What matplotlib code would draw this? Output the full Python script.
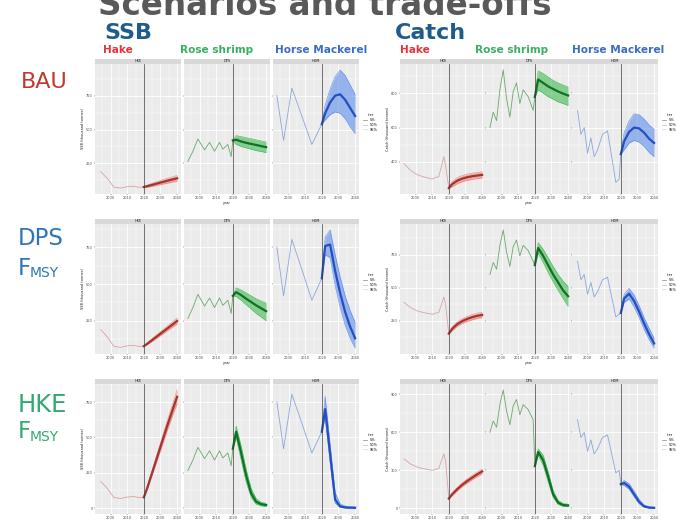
import matplotlib
matplotlib.use("Agg")
import matplotlib.pyplot as plt
from matplotlib.lines import Line2D
from matplotlib.ticker import MultipleLocator, MaxNLocator, AutoMinorLocator

# ---- data (SSB and catch, thousand tonnes; projections 5%, median, 95%) ----
SPECIES = ["Hake", "Rose shrimp", "Horse Mackerel"]
STRIP_LABELS = ["HKE", "DPS", "HOM"]
SCENARIOS = ["BAU", "DPS", "HKE"]
PROJ_YEARS = [2020, 2022, 2025, 2028, 2031, 2034, 2037, 2040]

SSB_HKE_YEARS = [1994, 1998, 2002, 2006, 2010, 2014, 2017, 2019]
SSB_HKE = [190, 140, 75, 68, 78, 82, 74, 76]
SSB_MUT_YEARS = [1993, 1996, 1999, 2003, 2006, 2009, 2012, 2014, 2017, 2019]
SSB_MUT = [265, 340, 430, 350, 405, 340, 405, 355, 390, 300]
SSB_HOM_YEARS = [1993, 1997, 2002, 2008, 2014, 2019]
SSB_HOM = [750, 420, 805, 600, 390, 515]

CATCH_HKE_YEARS = [1993, 1997, 2001, 2005, 2010, 2014, 2017, 2018]
CATCH_HKE = [390, 350, 325, 312, 300, 315, 430, 380]
CATCH_MUT_YEARS = [1993, 1995, 1997, 1999, 2001, 2003, 2005, 2007, 2009, 2011, 2013, 2016, 2019]
CATCH_MUT = [600, 690, 640, 820, 936, 770, 660, 810, 860, 740, 820, 780, 700]
CATCH_HOM_YEARS = [1994, 1996, 1998, 2000, 2002, 2004, 2006, 2009, 2012, 2015, 2017, 2019]
CATCH_HOM = [700, 560, 600, 450, 540, 430, 470, 560, 580, 400, 280, 300]

# SSB projections
SSB_BAU_HKE_LO = [76, 74, 80, 88, 96, 104, 112, 118]
SSB_BAU_HKE_MED = [76, 82, 92, 102, 112, 122, 131, 140]
SSB_BAU_HKE_HI = [76, 90, 104, 116, 128, 140, 150, 162]
SSB_BAU_MUT_LO = [420, 390, 375, 365, 355, 345, 338, 330]
SSB_BAU_MUT_MED = [420, 425, 412, 402, 394, 386, 378, 370]
SSB_BAU_MUT_HI = [420, 455, 448, 440, 432, 424, 416, 408]
SSB_BAU_HOM_LO = [540, 570, 610, 630, 620, 580, 520, 470]
SSB_BAU_HOM_MED = [540, 620, 700, 750, 760, 720, 660, 600]
SSB_BAU_HOM_HI = [540, 680, 800, 890, 940, 900, 830, 760]

SSB_DPS_HKE_LO = [76, 86, 108, 132, 156, 180, 204, 228]
SSB_DPS_HKE_MED = [76, 92, 118, 144, 170, 196, 222, 248]
SSB_DPS_HKE_HI = [76, 98, 128, 156, 184, 212, 240, 268]
SSB_DPS_MUT_LO = [420, 415, 390, 360, 330, 300, 275, 250]
SSB_DPS_MUT_MED = [420, 445, 425, 400, 378, 355, 335, 315]
SSB_DPS_MUT_HI = [420, 475, 460, 440, 420, 400, 385, 370]
SSB_DPS_HOM_LO = [540, 700, 680, 490, 340, 220, 130, 63]
SSB_DPS_HOM_MED = [540, 760, 770, 590, 440, 310, 210, 130]
SSB_DPS_HOM_HI = [540, 820, 870, 700, 550, 420, 320, 240]

SSB_HKEF_HKE_LO = [76, 130, 232, 336, 440, 545, 645, 738]
SSB_HKEF_HKE_MED = [76, 140, 250, 360, 470, 580, 685, 787]
SSB_HKEF_HKE_HI = [76, 150, 268, 384, 500, 615, 725, 836]
SSB_HKEF_MUT_LO = [420, 500, 340, 185, 75, 28, 16, 12]
SSB_HKEF_MUT_MED = [420, 540, 390, 230, 105, 45, 28, 22]
SSB_HKEF_MUT_HI = [420, 580, 440, 275, 140, 68, 42, 34]
SSB_HKEF_HOM_LO = [540, 640, 320, 35, 5, 1, 0, 0]
SSB_HKEF_HOM_MED = [540, 700, 380, 60, 12, 5, 3, 2]
SSB_HKEF_HOM_HI = [540, 790, 450, 110, 30, 15, 10, 8]

# Catch projections
CATCH_BAU_HKE_LO = [247, 255, 272, 284, 292, 298, 302, 306]
CATCH_BAU_HKE_MED = [247, 270, 290, 302, 310, 316, 320, 324]
CATCH_BAU_HKE_HI = [247, 285, 308, 320, 328, 334, 338, 342]
CATCH_BAU_MUT_LO = [778, 820, 800, 780, 765, 750, 740, 729]
CATCH_BAU_MUT_MED = [778, 880, 860, 840, 825, 810, 798, 787]
CATCH_BAU_MUT_HI = [778, 930, 915, 895, 875, 860, 848, 836]
CATCH_BAU_HOM_LO = [445, 470, 510, 525, 515, 490, 455, 430]
CATCH_BAU_HOM_MED = [445, 520, 575, 600, 595, 570, 535, 510]
CATCH_BAU_HOM_HI = [445, 570, 640, 680, 675, 650, 615, 590]

CATCH_DPS_HKE_LO = [154, 175, 208, 230, 246, 258, 268, 275]
CATCH_DPS_HKE_MED = [154, 190, 225, 248, 265, 278, 288, 295]
CATCH_DPS_HKE_HI = [154, 205, 242, 266, 284, 298, 308, 315]
CATCH_DPS_MUT_LO = [670, 760, 690, 615, 545, 480, 420, 360]
CATCH_DPS_MUT_MED = [670, 800, 740, 670, 600, 540, 480, 436]
CATCH_DPS_MUT_HI = [670, 840, 790, 725, 660, 600, 550, 510]
CATCH_DPS_HOM_LO = [310, 390, 415, 355, 275, 185, 110, 45]
CATCH_DPS_HOM_MED = [310, 420, 455, 400, 320, 230, 150, 80]
CATCH_DPS_HOM_HI = [310, 450, 495, 445, 365, 275, 195, 120]

CATCH_HKEF_HKE_LO = [76, 98, 136, 170, 198, 225, 250, 272]
CATCH_HKEF_HKE_MED = [76, 110, 150, 185, 215, 242, 268, 291]
CATCH_HKEF_HKE_HI = [76, 122, 164, 200, 232, 260, 286, 310]
CATCH_HKEF_MUT_LO = [333, 420, 340, 210, 85, 30, 15, 12]
CATCH_HKEF_MUT_MED = [333, 445, 380, 250, 110, 45, 25, 22]
CATCH_HKEF_MUT_HI = [333, 470, 420, 290, 140, 62, 38, 32]
CATCH_HKEF_HOM_LO = [190, 180, 150, 90, 35, 8, 2, 1]
CATCH_HKEF_HOM_MED = [190, 200, 170, 110, 50, 15, 5, 3]
CATCH_HKEF_HOM_HI = [190, 220, 195, 135, 70, 25, 12, 8]

# ---- styling ----
W, H = 676, 520
HIST_COLORS = ["#d8a4a4", "#6aa86a", "#8aa6dc"]
BAND_COLORS = ["#ee7b70", "#2fb543", "#4f83ec"]
MED_COLORS = ["#a33530", "#0f7026", "#234fbf"]
LABEL_COLORS = ["#e8323c", "#3aae64", "#3a6cc4"]
ROW_COLORS = ["#bf3a30", "#2e75b6", "#33a870"]
HEAD_COLOR = "#1f5c8e"

SSB_LEFTS = [95, 184, 273]
CATCH_LEFTS = [400, 486, 572]
FACET_W = 86
ROW_TOPS = [64, 224, 384]
FACET_H = 130


def box(left, top, width, height):
    return [left / W, 1 - (top + height) / H, width / W, height / H]


def draw_panel(fig, lefts, top, hist, proj, ylabel, show_xlabel=True):
    axes = []
    for i in range(3):
        ax = fig.add_axes(box(lefts[i], top, FACET_W, FACET_H),
                          sharex=axes[0] if axes else None,
                          sharey=axes[0] if axes else None)
        ax.set_facecolor("#ebebeb")
        for s in ax.spines.values():
            s.set_visible(False)
        hx, hy = hist[i]
        lo, med, hi = proj[i]
        ax.plot(hx + PROJ_YEARS[:1], hy + med[:1], color=HIST_COLORS[i], lw=0.6, zorder=3)
        ax.fill_between(PROJ_YEARS, lo, hi, color=BAND_COLORS[i], alpha=0.55, lw=0, zorder=3)
        ax.plot(PROJ_YEARS, lo, color=BAND_COLORS[i], lw=0.4, alpha=0.9, zorder=3)
        ax.plot(PROJ_YEARS, hi, color=BAND_COLORS[i], lw=0.4, alpha=0.9, zorder=3)
        ax.plot(PROJ_YEARS, med, color=MED_COLORS[i], lw=1.6, zorder=4)
        ax.axvline(PROJ_YEARS[0], color="#3a3a3a", lw=0.5, zorder=5)
        ax.xaxis.set_major_locator(MultipleLocator(10))
        ax.xaxis.set_minor_locator(MultipleLocator(5))
        ax.yaxis.set_major_locator(MaxNLocator(nbins=4))
        ax.yaxis.set_minor_locator(AutoMinorLocator(2))
        ax.grid(which="major", color="white", lw=0.6, zorder=0)
        ax.grid(which="minor", color="white", lw=0.3, zorder=0)
        ax.set_axisbelow(True)
        ax.tick_params(which="both", labelsize=2.5, length=1, width=0.3,
                       color="#333333", labelcolor="#4d4d4d", pad=0.5)
        ax.tick_params(which="minor", length=0)
        if i > 0:
            ax.tick_params(labelleft=False)
        ax.margins(x=0.05, y=0.05)
        strip = fig.add_axes(box(lefts[i], top - 5, FACET_W, 5))
        strip.set_facecolor("#d9d9d9")
        strip.set_xticks([])
        strip.set_yticks([])
        for s in strip.spines.values():
            s.set_visible(False)
        strip.text(0.5, 0.5, STRIP_LABELS[i], fontsize=2.5, color="#1a1a1a",
                   ha="center", va="center", transform=strip.transAxes)
        axes.append(ax)
    axes[0].set_ylabel(ylabel, fontsize=2.5, color="#1a1a1a", labelpad=1)
    if show_xlabel:
        axes[1].set_xlabel("year", fontsize=2.5, color="#1a1a1a", labelpad=0.5)
    handles = [Line2D([], [], color=c, lw=0.6) for c in ["#9a9a9a", "#c7c7c7", "#e0e0e0"]]
    axes[2].legend(handles, ["5%", "50%", "95%"], title="iter", fontsize=2.5,
                   title_fontsize=2.5, frameon=False, loc="center left",
                   bbox_to_anchor=(1.02, 0.55), handlelength=1.2, borderpad=0.2,
                   labelspacing=0.2)
    return axes


fig = plt.figure(figsize=(W / 100, H / 100), dpi=100)

ssb_hist = [(SSB_HKE_YEARS, SSB_HKE), (SSB_MUT_YEARS, SSB_MUT), (SSB_HOM_YEARS, SSB_HOM)]
catch_hist = [(CATCH_HKE_YEARS, CATCH_HKE), (CATCH_MUT_YEARS, CATCH_MUT),
              (CATCH_HOM_YEARS, CATCH_HOM)]
ssb_proj = [
    [(SSB_BAU_HKE_LO, SSB_BAU_HKE_MED, SSB_BAU_HKE_HI),
     (SSB_BAU_MUT_LO, SSB_BAU_MUT_MED, SSB_BAU_MUT_HI),
     (SSB_BAU_HOM_LO, SSB_BAU_HOM_MED, SSB_BAU_HOM_HI)],
    [(SSB_DPS_HKE_LO, SSB_DPS_HKE_MED, SSB_DPS_HKE_HI),
     (SSB_DPS_MUT_LO, SSB_DPS_MUT_MED, SSB_DPS_MUT_HI),
     (SSB_DPS_HOM_LO, SSB_DPS_HOM_MED, SSB_DPS_HOM_HI)],
    [(SSB_HKEF_HKE_LO, SSB_HKEF_HKE_MED, SSB_HKEF_HKE_HI),
     (SSB_HKEF_MUT_LO, SSB_HKEF_MUT_MED, SSB_HKEF_MUT_HI),
     (SSB_HKEF_HOM_LO, SSB_HKEF_HOM_MED, SSB_HKEF_HOM_HI)],
]
catch_proj = [
    [(CATCH_BAU_HKE_LO, CATCH_BAU_HKE_MED, CATCH_BAU_HKE_HI),
     (CATCH_BAU_MUT_LO, CATCH_BAU_MUT_MED, CATCH_BAU_MUT_HI),
     (CATCH_BAU_HOM_LO, CATCH_BAU_HOM_MED, CATCH_BAU_HOM_HI)],
    [(CATCH_DPS_HKE_LO, CATCH_DPS_HKE_MED, CATCH_DPS_HKE_HI),
     (CATCH_DPS_MUT_LO, CATCH_DPS_MUT_MED, CATCH_DPS_MUT_HI),
     (CATCH_DPS_HOM_LO, CATCH_DPS_HOM_MED, CATCH_DPS_HOM_HI)],
    [(CATCH_HKEF_HKE_LO, CATCH_HKEF_HKE_MED, CATCH_HKEF_HKE_HI),
     (CATCH_HKEF_MUT_LO, CATCH_HKEF_MUT_MED, CATCH_HKEF_MUT_HI),
     (CATCH_HKEF_HOM_LO, CATCH_HKEF_HOM_MED, CATCH_HKEF_HOM_HI)],
]

for r in range(3):
    draw_panel(fig, SSB_LEFTS, ROW_TOPS[r], ssb_hist, ssb_proj[r],
               "SSB (thousand tonnes)", show_xlabel=r < 2)
    draw_panel(fig, CATCH_LEFTS, ROW_TOPS[r], catch_hist, catch_proj[r],
               "Catch (thousand tonnes)", show_xlabel=r < 2)


def ftext(x, y, s, **kw):
    fig.text(x / W, 1 - y / H, s, **kw)


# slide text (title is cut by the top edge, as on the slide)
ftext(98, 15, "Scenarios and trade-offs", fontsize=23.5, fontweight="bold",
      color="#595959", va="baseline")
ftext(104, 39, "SSB", fontsize=16, fontweight="bold", color=HEAD_COLOR, va="baseline")
ftext(395, 39, "Catch", fontsize=16, fontweight="bold", color=HEAD_COLOR, va="baseline")
for lefts in ([103, 180, 275], [400, 475, 572]):
    for i in range(3):
        ftext(lefts[i], 53, SPECIES[i], fontsize=7.6, fontweight="bold",
              color=LABEL_COLORS[i], va="baseline")

ftext(21, 88, "BAU", fontsize=16, color=ROW_COLORS[0], va="baseline")
ftext(18, 245, "DPS", fontsize=16.5, color=ROW_COLORS[1], va="baseline")
ftext(18, 275, "F", fontsize=16.5, color=ROW_COLORS[1], va="baseline")
ftext(30, 277, "MSY", fontsize=10, color=ROW_COLORS[1], va="baseline")
ftext(18, 412, "HKE", fontsize=17.5, color=ROW_COLORS[2], va="baseline")
ftext(18, 438, "F", fontsize=16.5, color=ROW_COLORS[2], va="baseline")
ftext(30, 441, "MSY", fontsize=10, color=ROW_COLORS[2], va="baseline")

fig.savefig("out.png", dpi=100)
